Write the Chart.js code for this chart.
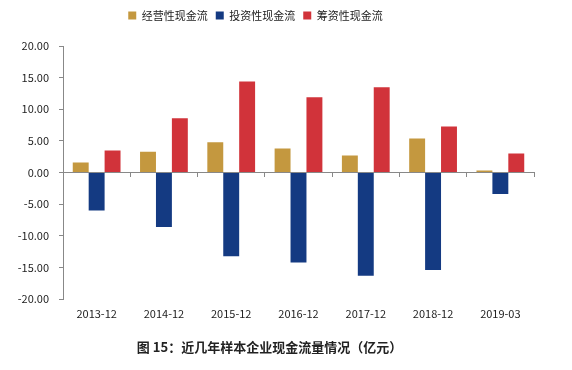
<!doctype html>
<html lang="zh">
  <head>
    <meta charset="utf-8">
    <title>近几年样本企业现金流量情况</title>
    <script src="https://cdn.jsdelivr.net/npm/chart.js@4.4.1/dist/chart.umd.min.js"></script>
    <style>
      html, body { margin: 0; padding: 0; background: #fff; }
      #wrap { width: 572px; height: 370px; }
    </style>
  </head>
  <body>
    <div id="wrap"><canvas id="cashChart" width="572" height="370"></canvas></div>

    <script>
        // categories
        var periods = ['2013-12', '2014-12', '2015-12', '2016-12', '2017-12', '2018-12', '2019-03'];
        // series (亿元)
        var operating = [1.6, 3.3, 4.8, 3.8, 2.7, 5.4, 0.35];
        var investing = [-6.0, -8.6, -13.2, -14.2, -16.3, -15.4, -3.4];
        var financing = [3.5, 8.6, 14.4, 11.9, 13.5, 7.3, 3.0];
        // y tick range
        var yMin = -20, yMax = 20, yStep = 5;

        var cjk = '"Noto Sans CJK SC", "Liberation Sans", sans-serif';

        // legend sits a little left of centre and higher than the padding puts it
        var legendTweak = {
            id: 'legendTweak',
            afterLayout: function (chart) {
                var lg = chart.legend;
                lg.left -= 14; lg.right -= 14;
                lg.top -= 15; lg.bottom -= 15;
            }
        };

        var ctx = document.getElementById('cashChart').getContext('2d');
        var chart = new Chart(ctx, {
            type: 'bar',
            data: {
                labels: periods,
                datasets: [
                    { label: '经营性现金流', data: operating, backgroundColor: '#C4983F' },
                    { label: '投资性现金流', data: investing, backgroundColor: '#143A82' },
                    { label: '筹资性现金流', data: financing, backgroundColor: '#D1333A' }
                ]
            },
            options: {
                responsive: false,
                animation: false,
                categoryPercentage: 0.71,
                barPercentage: 1.0,
                layout: { padding: { left: 5, right: 38, top: 17, bottom: 15 } },
                scales: {
                    x: {
                        position: 'bottom',
                        grid: { display: false },
                        border: { display: false },
                        ticks: { color: '#222', font: { family: cjk, size: 11 }, padding: 0, maxRotation: 0 }
                    },
                    // zero line with category boundary ticks
                    x2: {
                        type: 'category',
                        labels: periods,
                        position: { y: 0 },
                        offset: true,
                        grid: { offset: true, drawOnChartArea: false, tickLength: 4, color: '#888' },
                        border: { display: true, color: '#888', width: 1 },
                        ticks: { display: false }
                    },
                    y: {
                        min: yMin,
                        max: yMax,
                        afterFit: function (scale) { scale.width = 58; },
                        grid: { drawOnChartArea: false, tickLength: 4, color: '#888' },
                        border: { display: true, color: '#888', width: 1 },
                        ticks: {
                            stepSize: yStep,
                            padding: 10,
                            color: '#222',
                            font: { family: cjk, size: 11 },
                            callback: function (v) { return Number(v).toFixed(2); }
                        }
                    }
                },
                plugins: {
                    legend: {
                        position: 'top',
                        labels: {
                            boxWidth: 8,
                            boxHeight: 8,
                            padding: 8,
                            color: '#222',
                            font: { family: cjk, size: 11 }
                        }
                    },
                    title: {
                        display: true,
                        position: 'bottom',
                        text: '图 15：近几年样本企业现金流量情况（亿元）',
                        color: '#222',
                        font: { family: cjk, size: 13, weight: 'bold' },
                        padding: { top: 19, bottom: 0 }
                    },
                    tooltip: { enabled: false }
                }
            },
            plugins: [legendTweak]
        });
    </script>
  </body>
</html>
